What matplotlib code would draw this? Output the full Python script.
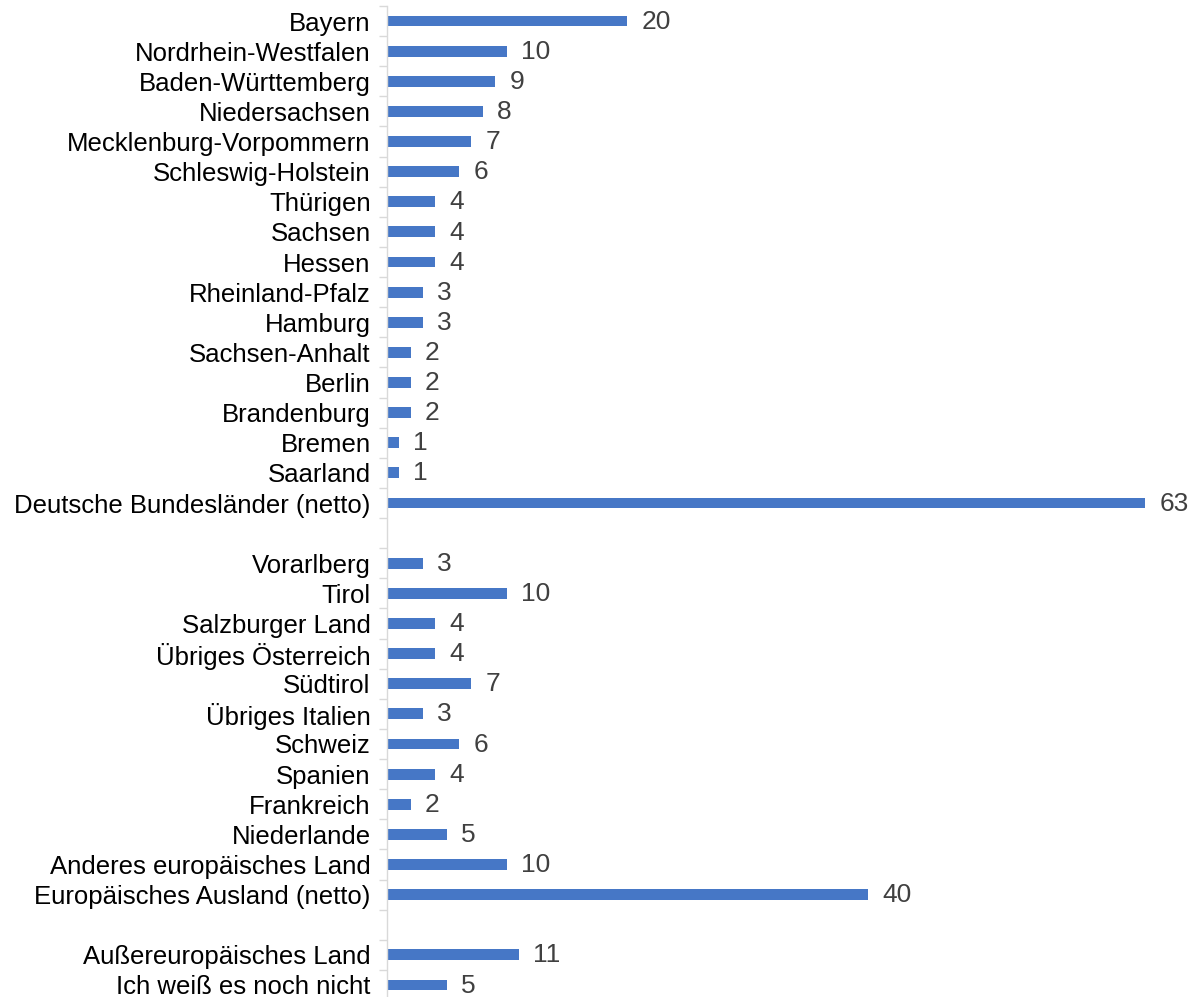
import matplotlib
matplotlib.use("Agg")
import matplotlib.pyplot as plt
import numpy as np

categories = ["Bayern", "Nordrhein-Westfalen", "Baden-Württemberg", "Niedersachsen",
              "Mecklenburg-Vorpommern", "Schleswig-Holstein", "Thürigen", "Sachsen",
              "Hessen", "Rheinland-Pfalz", "Hamburg", "Sachsen-Anhalt", "Berlin",
              "Brandenburg", "Bremen", "Saarland", "Deutsche Bundesländer (netto)",
              "",
              "Vorarlberg", "Tirol", "Salzburger Land", "Übriges Österreich", "Südtirol",
              "Übriges Italien", "Schweiz", "Spanien", "Frankreich", "Niederlande",
              "Anderes europäisches Land", "Europäisches Ausland (netto)",
              "",
              "Außereuropäisches Land", "Ich weiß es noch nicht"]
values = [20, 10, 9, 8, 7, 6, 4, 4, 4, 3, 3, 2, 2, 2, 1, 1, 63,
          None,
          3, 10, 4, 4, 7, 3, 6, 4, 2, 5, 10, 40,
          None,
          11, 5]

plt.rcParams['font.family'] = ['Liberation Sans', 'DejaVu Sans']

W, H = 1202, 997
fig = plt.figure(figsize=(W / 100, H / 100), dpi=100)
x0, x1 = 386.5, 1145
y_top, y_bot = 6, 1000
ax = fig.add_axes([x0 / W, (H - y_bot) / H, (x1 - x0) / W, (y_bot - y_top) / H])

n = len(categories)
ypos = np.arange(n)
bar_vals = [v if v is not None else 0 for v in values]
color = "#4677C6"
ax.barh(ypos, bar_vals, height=0.36, color=color, zorder=2)
for y, v in zip(ypos, values):
    if v is None:
        continue
    ax.text(v + 1.2, y + 0.02, str(v), va="center", ha="left", fontsize=19,
            color="#404040", clip_on=False)

ax.set_ylim(n - 0.5, -0.5)
ax.set_xlim(0, 63)
ax.set_yticks(ypos)
ax.set_yticklabels(categories, fontsize=18.5, color="black")
ax.tick_params(axis="y", which="major", length=0, pad=11.5)
ax.set_yticks(np.arange(-0.5, n, 1), minor=True)
ax.tick_params(axis="y", which="minor", length=6, width=1, color="#D9D9D9")
ax.set_xticks([])
for s in ["top", "right", "bottom"]:
    ax.spines[s].set_visible(False)
ax.spines["left"].set_color("#D9D9D9")
ax.spines["left"].set_linewidth(1)

fig.savefig("out.png", dpi=100)
